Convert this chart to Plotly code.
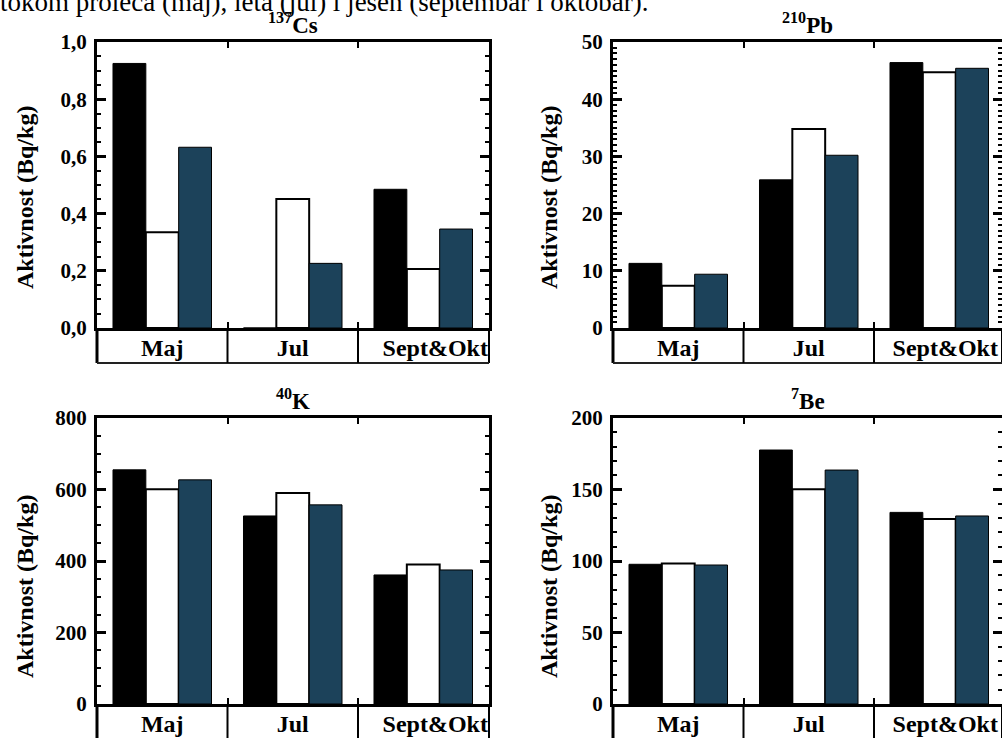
import plotly.graph_objects as go

# ---------------- data ----------------
categories = ["Maj", "Jul", "Sept&Okt"]
panel_titles = ["<sup>137</sup>Cs", "<sup>210</sup>Pb", "<sup>40</sup>K", "<sup>7</sup>Be"]
y_title = "Aktivnost (Bq/kg)"
top_text = "tokom proleća (maj), leta (jul) i jesen (septembar i oktobar)."

cs_black = [0.925, 0.0, 0.485]
cs_white = [0.335, 0.451, 0.206]
cs_blue = [0.632, 0.226, 0.346]

pb_black = [11.3, 25.9, 46.4]
pb_white = [7.4, 34.8, 44.7]
pb_blue = [9.4, 30.2, 45.4]

k_black = [655, 526, 361]
k_white = [601, 590, 390]
k_blue = [627, 557, 375]

be_black = [97.7, 177.6, 134.0]
be_white = [98.3, 150.1, 129.4]
be_blue = [97.2, 163.6, 131.5]

y_ranges = [[0, 1.0], [0, 50], [0, 800], [0, 200]]
y_dticks = [0.2, 10, 200, 50]
y_minor = [0.05, 1, 50, 10]
y_formats = [".1f", "d", "d", "d"]

# ---------------- styling ----------------
W, H = 1002, 738
SERIF = "Liberation Serif, Times New Roman, serif"
BLUE = "#1c425a"
x_pos = [0, 1, 2]

# panel pixel boxes: (left, right, top, bottom)
boxes = [(97, 489, 42, 328), (613, 1002, 42, 328),
         (97, 489, 418, 704), (613, 1002, 418, 704)]
cat_px = 130.5

series = [
    (cs_black, cs_white, cs_blue),
    (pb_black, pb_white, pb_blue),
    (k_black, k_white, k_blue),
    (be_black, be_white, be_blue),
]

fig = go.Figure()
layout = dict(
    template="none",
    width=W, height=H, margin=dict(l=0, r=0, t=0, b=0, autoexpand=False),
    paper_bgcolor="white", plot_bgcolor="white",
    showlegend=False, barmode="group", bargap=0.245, bargroupgap=0,
    separators=",.", shapes=[], annotations=[],
)

for i, (blk, wht, blu) in enumerate(series):
    n = "" if i == 0 else str(i + 1)
    xa, ya = "x" + n, "y" + n
    left, right, top, bottom = boxes[i]
    xr = -0.5 + (right - left) / cat_px
    ph = bottom - top
    for vals, fill, lw in ((blk, "black", 1), (wht, "white", 2), (blu, BLUE, 1)):
        fig.add_trace(go.Bar(x=x_pos, y=vals, xaxis=xa, yaxis=ya,
                             marker=dict(color=fill, line=dict(color="black", width=lw)),
                             hoverinfo="skip"))
    right_sp = i % 2 == 1
    ticktext = list(categories)
    ticktext[2] = ("\u2002" if right_sp else "\u2003") + categories[2]
    layout["xaxis" + n] = dict(
        domain=[left / W, right / W], range=[-0.5, xr], anchor=ya,
        tickmode="array", tickvals=x_pos, ticktext=ticktext, ticks="",
        tickfont=dict(family=SERIF, size=24, color="black", weight="bold"),
        ticklabelstandoff=-4, automargin=False,
        showline=True, linewidth=3, linecolor="black", mirror="ticks",
        minor=dict(tickmode="array", tickvals=[0.5, 1.5], ticks="inside",
                   ticklen=6, tickwidth=2, tickcolor="black"),
        showgrid=False, zeroline=False, fixedrange=True,
    )
    layout["yaxis" + n] = dict(
        domain=[1 - bottom / H, 1 - top / H], range=y_ranges[i], anchor=xa,
        dtick=y_dticks[i], tick0=0, tickformat=y_formats[i],
        ticks="inside", ticklen=9, tickwidth=3, tickcolor="black",
        tickfont=dict(family=SERIF, size=21, color="black", weight="bold"),
        ticklabelstandoff=3, automargin=False,
        minor=dict(dtick=y_minor[i], tick0=0, ticks="inside", ticklen=4,
                   tickwidth=2, tickcolor="black"),
        showline=True, linewidth=3, linecolor="black", mirror="ticks",
        showgrid=False, zeroline=False, fixedrange=True,
    )
    # category box below the plot
    hb = -35 / ph
    xd, yd = xa + " domain", ya + " domain"
    shp = layout["shapes"]
    shp.append(dict(type="line", xref=xd, yref=yd, x0=0, x1=0, y0=hb, y1=0,
                    line=dict(color="black", width=3)))
    shp.append(dict(type="line", xref=xd, yref=yd, x0=1, x1=1, y0=hb, y1=0,
                    line=dict(color="black", width=2)))
    shp.append(dict(type="line", xref=xd, yref=yd, x0=0, x1=1, y0=hb, y1=hb,
                    line=dict(color="#222", width=2)))
    for dv in (0.5, 1.5):
        xdv = (dv + 0.5) / (xr + 0.5)
        shp.append(dict(type="line", xref=xd, yref=yd, x0=xdv, x1=xdv, y0=hb, y1=0,
                        line=dict(color="black", width=2)))
    # panel title
    layout["annotations"].append(dict(
        text=panel_titles[i], xref="paper", yref="paper",
        x=((left + min(right, left + 3 * cat_px)) / 2) / W, y=1 - (top - 18) / H,
        xanchor="center", yanchor="middle", showarrow=False,
        font=dict(family=SERIF, size=23, color="black", weight="bold")))
    # y axis title
    tx = 25 if i % 2 == 0 else 549
    ty = 198 if i < 2 else 587
    layout["annotations"].append(dict(
        text=y_title, xref="paper", yref="paper", x=tx / W, y=1 - ty / H,
        xanchor="center", yanchor="middle", textangle=-90, showarrow=False,
        font=dict(family=SERIF, size=24, color="black", weight="bold")))

layout["annotations"].append(dict(
    text=top_text, xref="paper", yref="paper", x=-2 / W, y=1 - 19 / H,
    xanchor="left", yanchor="bottom", showarrow=False,
    font=dict(family=SERIF, size=27, color="black")))

fig.update_layout(**layout)
fig.write_html("out.html", config={"displayModeBar": False},
               post_script="document.body.style.margin='0';document.body.style.overflow='hidden';")
